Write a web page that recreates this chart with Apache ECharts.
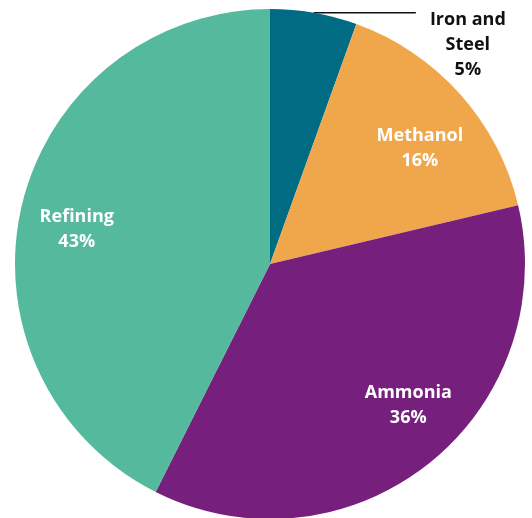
<!DOCTYPE html>
<html><head><meta charset="utf-8">
<script src="https://cdn.jsdelivr.net/npm/echarts@6/dist/echarts.min.js"></script>
<style>html,body{margin:0;padding:0;background:#fff}#c{width:532px;height:518px}</style>
</head><body><div id="c"></div>
<script>
const categories = ["Iron and\nSteel", "Methanol", "Ammonia", "Refining"];
const values = [5.5, 15.8, 36.1, 42.6];
const pctLabels = ["5%", "16%", "36%", "43%"];
const colors = ["#006C84", "#F0A74C", "#761F7C", "#54B99D"];
const labelNudge = [[0, 0], [4, 15], [17, -12], [-3, 10]];

const chart = echarts.init(document.getElementById('c'), null, {renderer: 'canvas'});
const fontFamily = '"Open Sans", "Liberation Sans", sans-serif';
const mainData = categories.map((c, i) => ({
  name: c, value: values[i], itemStyle: {color: colors[i]},
  label: {show: i === 0},
  labelLine: {show: i === 0}
}));
const overlayData = categories.map((c, i) => ({
  name: c, value: values[i],
  label: {show: i !== 0}
}));
chart.setOption({
  animation: false,
  series: [{
    type: 'pie',
    center: [270, 264],
    radius: [0, 255],
    startAngle: 90,
    clockwise: true,
    silent: true,
    itemStyle: {borderWidth: 0},
    label: {
      position: 'outside',
      formatter: p => p.name + '\n' + pctLabels[p.dataIndex],
      color: '#111',
      fontFamily, fontWeight: 700, fontSize: 18, lineHeight: 25,
      distanceToLabelLine: 4
    },
    labelLine: {length: 0, length2: 102, lineStyle: {color: '#111', width: 1.6}},
    labelLayout: p => p.dataIndex === 0 ? {dx: 48, dy: 32, align: 'center'} : {},
    data: mainData
  }, {
    type: 'pie',
    center: [270, 264],
    radius: [130, 255],
    startAngle: 90,
    clockwise: true,
    silent: true,
    itemStyle: {color: 'rgba(0,0,0,0)', borderWidth: 0},
    label: {
      position: 'inside',
      formatter: p => p.name + '\n' + pctLabels[p.dataIndex],
      color: '#fff',
      fontFamily, fontWeight: 700, fontSize: 18, lineHeight: 25
    },
    labelLayout: p => ({dx: labelNudge[p.dataIndex][0], dy: labelNudge[p.dataIndex][1]}),
    labelLine: {show: false},
    data: overlayData
  }]
});
</script></body></html>
